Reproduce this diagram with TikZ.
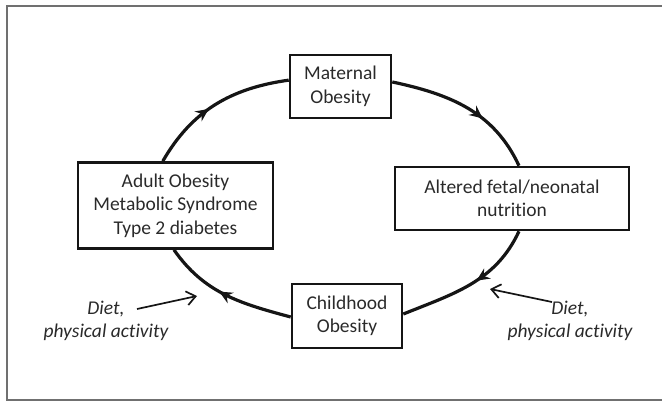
\documentclass[tikz,border=0pt]{standalone}
\usepackage{fontspec}
\setmainfont[Ligatures=NoCommon]{Carlito}
\usetikzlibrary{arrows.meta,decorations.markings}
\definecolor{txt}{HTML}{2A2A2A}
\definecolor{ln}{HTML}{151515}
\definecolor{frame}{HTML}{707070}
\tikzset{
  box/.style={draw=ln, line width=2.6bp, rectangle, inner sep=0pt, align=center,
    text=txt, font=\fontsize{19.5bp}{23.5bp}\selectfont},
  cyc/.style={draw=ln, line width=3.2bp, postaction={decorate},
    decoration={markings, mark=at position #1 with {\arrow{Stealth[length=13bp,width=12bp,inset=4.5bp]}}}},
  cyc/.default=0.5,
  dietarrow/.style={draw=ln, line width=1.7bp, -{Straight Barb[length=9bp,width=14bp]}},
  diettext/.style={align=center, text=txt, inner sep=0pt,
    font=\fontsize{19.5bp}{23bp}\selectfont\itshape}
}
\begin{document}
\begin{tikzpicture}[x=1bp,y=1bp]
\useasboundingbox (0,0) rectangle (662,404);
% outer frame (open on the right)
\draw[frame, line width=1.5bp] (662,398) -- (7,398) -- (7,4) -- (662,4);

\node[box, minimum width=101bp, minimum height=63bp] (maternal) at (340.5,317.5) {Maternal\\Obesity};
\node[box, minimum width=195bp, minimum height=86bp] (adult) at (175.5,198.5) {Adult Obesity\\Metabolic Syndrome\\Type 2 diabetes};
\node[box, minimum width=234bp, minimum height=63bp] (altered) at (512,205.5) {Altered fetal/neonatal\\nutrition};
\node[box, minimum width=110bp, minimum height=64bp] (child) at (347,88) {Childhood\\Obesity};

\draw[cyc=0.45] (adult.106) to[out=60, in=188] (maternal.173);
\draw[cyc=0.62] (maternal.5) to[out=-12, in=115] (altered.78);
\draw[cyc=0.45] (altered.-78) to[out=-115, in=22] (child.2);
\draw[cyc=0.55] (child.181) to[out=165, in=-55] (adult.268);

\node[diettext] (dietL) at (106,83.5) {Diet,\\physical activity};
\node[diettext] (dietR) at (570,83.5) {Diet,\\physical activity};
\coordinate (dl1) at (137,95);
\coordinate (dl2) at (197,108);
\coordinate (dr1) at (552,102);
\coordinate (dr2) at (490,115);
\draw[dietarrow] (dl1) -- (dl2);
\draw[dietarrow] (dr1) -- (dr2);
\end{tikzpicture}
\end{document}
